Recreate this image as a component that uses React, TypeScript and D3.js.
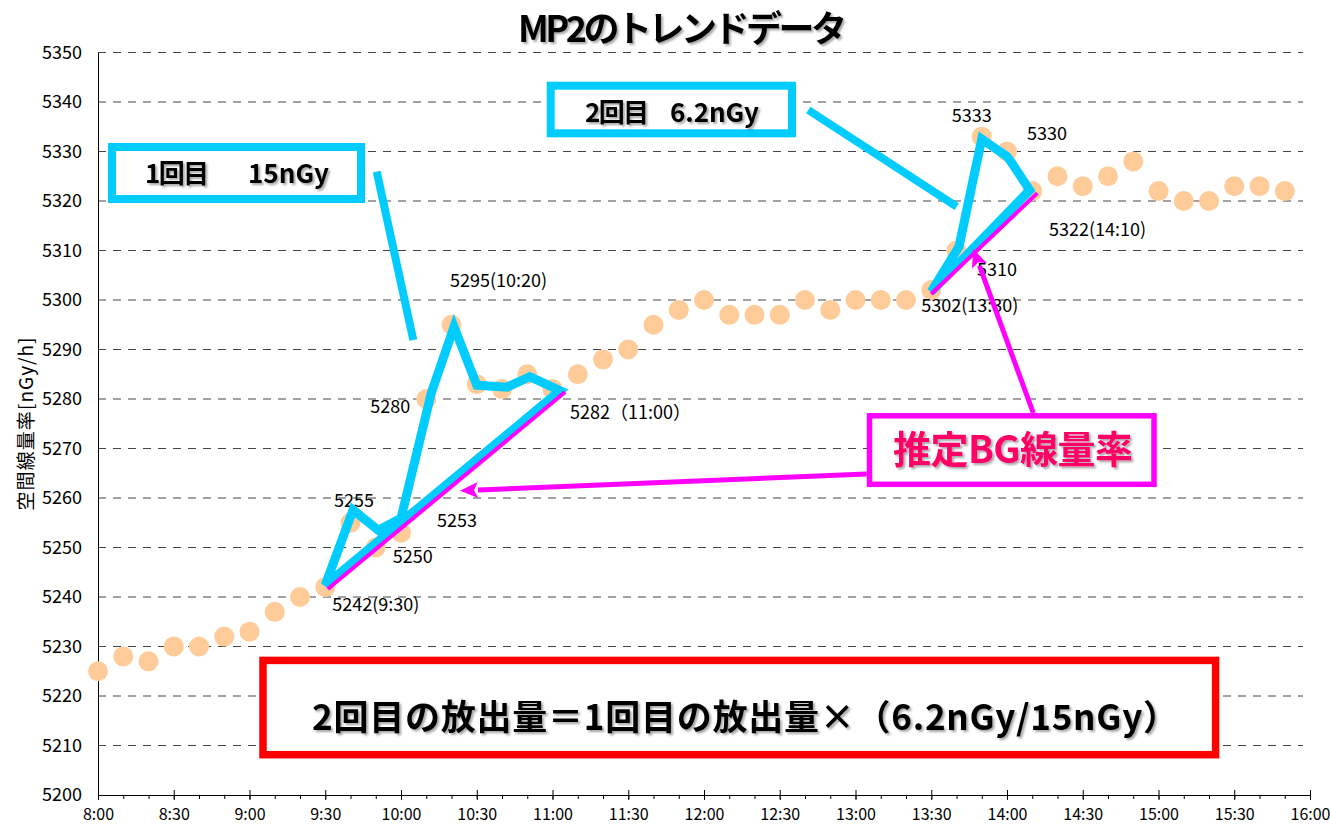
import React, { useEffect, useRef } from "react";
import * as d3 from "d3";

// measurement times (every 10 min) and readings [nGy/h]
const times = [
  "8:00", "8:10", "8:20", "8:30", "8:40", "8:50",
  "9:00", "9:10", "9:20", "9:30", "9:40", "9:50",
  "10:00", "10:10", "10:20", "10:30", "10:40", "10:50",
  "11:00", "11:10", "11:20", "11:30", "11:40", "11:50",
  "12:00", "12:10", "12:20", "12:30", "12:40", "12:50",
  "13:00", "13:10", "13:20", "13:30", "13:40", "13:50",
  "14:00", "14:10", "14:20", "14:30", "14:40", "14:50",
  "15:00", "15:10", "15:20", "15:30", "15:40", "15:50",
];
const values = [
  5225, 5228, 5227, 5230, 5230, 5232,
  5233, 5237, 5240, 5242, 5255, 5250,
  5253, 5280, 5295, 5283, 5282, 5285,
  5282, 5285, 5288, 5290, 5295, 5298,
  5300, 5297, 5297, 5297, 5300, 5298,
  5300, 5300, 5300, 5302, 5310, 5333,
  5330, 5322, 5325, 5323, 5325, 5328,
  5322, 5320, 5320, 5323, 5323, 5322,
];

const yTicks = [5200, 5210, 5220, 5230, 5240, 5250, 5260, 5270, 5280, 5290, 5300, 5310, 5320, 5330, 5340, 5350];
const xTickLabels = [
  "8:00", "8:30", "9:00", "9:30", "10:00", "10:30", "11:00", "11:30",
  "12:00", "12:30", "13:00", "13:30", "14:00", "14:30", "15:00", "15:30", "16:00",
];

// point labels
const labelTimes = ["9:30", "9:40", "9:50", "10:00", "10:10", "10:20", "11:00", "13:30", "13:40", "13:50", "14:00", "14:10"];
const labelTexts = [
  "5242(9:30)", "5255", "5250", "5253", "5280", "5295(10:20)",
  "5282（11:00）", "5302(13:30)", "5310", "5333", "5330", "5322(14:10)",
];
// pixel offsets from the dot (left edge, baseline)
const labelOffsets = [
  [7, 24], [-16.5, -16], [17, 15.5], [36, -6], [-56, 14], [-1.5, -37.5],
  [17.5, 30], [-10, 21.5], [20.5, 25.7], [-30, -15], [20, -11.5], [16.7, 45],
];

// hand-drawn cyan outlines of the two releases (time, value)
const firstRelease: [string, number][] = [
  ["9:30", 5242.4], ["9:41", 5257.6], ["9:51", 5253.5], ["10:00", 5255.9],
  ["10:12", 5281.2], ["10:21", 5294.6], ["10:30", 5282.8], ["10:42", 5282.4],
  ["10:51", 5284.5], ["11:03", 5281.7],
];
const secondRelease: [string, number][] = [
  ["13:30", 5301.7], ["13:41", 5310.8], ["13:50", 5332.5], ["14:00", 5329],
  ["14:02", 5327.6], ["14:09", 5322.2],
];
// estimated background lines
const firstBG: [string, number][] = [["9:31", 5241.6], ["11:05", 5281.4]];
const secondBG: [string, number][] = [["13:30", 5301.2], ["14:12", 5321.6]];

const toDate = (s: string) => {
  const [h, m] = s.split(":").map(Number);
  return new Date(2020, 0, 1, h, m);
};

const FONT = "'Noto Sans CJK JP', 'Liberation Sans', sans-serif";
const CYAN = "#00CCFF";
const MAGENTA = "#FF00FF";

const App = () => {
  const ref = useRef<SVGSVGElement | null>(null);

  useEffect(() => {
    if (!ref.current) return;
    const svg = d3.select(ref.current);
    svg.selectAll("*").remove();

    const left = 98, right = 1310, top = 52.5, bottom = 795;

    const defs = svg.append("defs");
    defs
      .append("filter")
      .attr("id", "shadow")
      .attr("x", "-10%").attr("y", "-30%").attr("width", "120%").attr("height", "160%")
      .append("feDropShadow")
      .attr("dx", 2).attr("dy", 2).attr("stdDeviation", 1)
      .attr("flood-color", "#000").attr("flood-opacity", 0.35);

    const x = d3.scaleTime().domain([toDate("8:00"), toDate("16:00")]).range([left, right]);
    const y = d3.scaleLinear().domain([5200, 5350]).range([bottom, top]);

    // grid
    svg
      .append("g")
      .selectAll("line")
      .data(yTicks.filter((v) => v > 5200))
      .join("line")
      .attr("x1", left)
      .attr("x2", 1303)
      .attr("y1", (d) => y(d))
      .attr("y2", (d) => y(d))
      .attr("stroke", "#444")
      .attr("stroke-width", 1)
      .attr("stroke-dasharray", "8 7");

    // y axis
    const yAxis = svg
      .append("g")
      .attr("transform", `translate(${left},0)`)
      .call(d3.axisLeft(y).tickValues(yTicks).tickSize(0).tickPadding(16).tickFormat((d) => String(d)));
    yAxis.select(".domain").attr("stroke", "#000");
    yAxis.selectAll("text").attr("font-size", 18).attr("font-family", FONT).attr("fill", "#000");

    // minor x ticks (10 min)
    const minor = svg
      .append("g")
      .attr("transform", `translate(0,${bottom})`)
      .call(d3.axisBottom(x).tickValues(times.map(toDate)).tickSize(4).tickFormat(() => ""));
    minor.select(".domain").remove();
    minor.selectAll("line").attr("stroke", "#000");

    // major x ticks (30 min)
    const xAxis = svg
      .append("g")
      .attr("transform", `translate(0,${bottom})`)
      .call(
        d3
          .axisBottom(x)
          .tickValues(xTickLabels.map(toDate))
          .tickSizeOuter(0)
          .tickFormat((d) => d3.timeFormat("%-H:%M")(d as Date))
      );
    xAxis.select(".domain").attr("stroke", "#000");
    xAxis.selectAll(".tick line").attr("y1", -5).attr("y2", 5).attr("stroke", "#000");
    xAxis
      .selectAll(".tick text")
      .attr("dy", null)
      .attr("y", 25)
      .attr("font-size", 16)
      .attr("font-family", FONT)
      .attr("fill", "#000");

    // y axis title
    svg
      .append("text")
      .attr("transform", "translate(24,424) rotate(-90)")
      .attr("text-anchor", "middle")
      .attr("dominant-baseline", "central")
      .attr("font-size", 19)
      .attr("font-family", FONT)
      .attr("textLength", 173)
      .text("空間線量率[nGy/h]");

    // dots
    svg
      .append("g")
      .selectAll("circle")
      .data(values)
      .join("circle")
      .attr("cx", (_, i) => x(toDate(times[i])))
      .attr("cy", (d) => y(d))
      .attr("r", 10)
      .attr("fill", "#FFCC99");

    // point labels
    svg
      .append("g")
      .selectAll("text")
      .data(labelTexts)
      .join("text")
      .attr("x", (_, i) => x(toDate(labelTimes[i])) + labelOffsets[i][0])
      .attr("y", (_, i) => y(values[times.indexOf(labelTimes[i])]) + labelOffsets[i][1])
      .attr("font-size", 18)
      .attr("font-family", FONT)
      .attr("fill", "#000")
      .text((d) => d);

    const line = d3
      .line<[string, number]>()
      .x((d) => x(toDate(d[0])))
      .y((d) => y(d[1]));

    [firstRelease, secondRelease].forEach((trace) => {
      svg
        .append("path")
        .attr("d", line.curve(d3.curveLinearClosed)(trace))
        .attr("fill", "none")
        .attr("stroke", CYAN)
        .attr("stroke-width", 9)
        .attr("stroke-linejoin", "miter")
        .attr("stroke-miterlimit", 3);
    });
    line.curve(d3.curveLinear);
    [firstBG, secondBG].forEach((bg) => {
      svg
        .append("path")
        .attr("d", line(bg))
        .attr("fill", "none")
        .attr("stroke", MAGENTA)
        .attr("stroke-width", 4);
    });

    // callout pointers
    const pointers = [
      [376.7, 171.7, 413.3, 340],
      [808.3, 110, 956.7, 206.7],
    ];
    svg
      .append("g")
      .selectAll("line")
      .data(pointers)
      .join("line")
      .attr("x1", (d) => d[0])
      .attr("y1", (d) => d[1])
      .attr("x2", (d) => d[2])
      .attr("y2", (d) => d[3])
      .attr("stroke", CYAN)
      .attr("stroke-width", 8);

    // boxes
    const boxes = [
      { x: 112, y: 147, w: 249, h: 52, c: CYAN, sw: 8 },
      { x: 550.7, y: 85.7, w: 241.3, h: 47.6, c: CYAN, sw: 8 },
      { x: 869.5, y: 415.8, w: 284.5, h: 68.5, c: MAGENTA, sw: 5.5 },
      { x: 263, y: 660.4, w: 952.6, h: 94.3, c: "#FF0000", sw: 7.5 },
    ];
    svg
      .append("g")
      .selectAll("rect")
      .data(boxes)
      .join("rect")
      .attr("x", (d) => d.x)
      .attr("y", (d) => d.y)
      .attr("width", (d) => d.w)
      .attr("height", (d) => d.h)
      .attr("fill", "#fff")
      .attr("stroke", (d) => d.c)
      .attr("stroke-width", (d) => d.sw);

    // arrows to the background lines
    const arrows = [
      [866.7, 474, 460, 490.7],
      [1033.3, 413, 973.3, 249],
    ];
    arrows.forEach(([x1, y1, x2, y2]) => {
      const a = Math.atan2(y2 - y1, x2 - x1);
      const len = 18, hw = 8;
      const bx = x2 - len * Math.cos(a), by = y2 - len * Math.sin(a);
      svg
        .append("line")
        .attr("x1", x1).attr("y1", y1).attr("x2", bx).attr("y2", by)
        .attr("stroke", MAGENTA).attr("stroke-width", 5);
      const px = -Math.sin(a) * hw, py = Math.cos(a) * hw;
      svg
        .append("path")
        .attr("d", `M${x2},${y2}L${bx + px},${by + py}L${bx + 4 * Math.cos(a)},${by + 4 * Math.sin(a)}L${bx - px},${by - py}Z`)
        .attr("fill", MAGENTA);
    });

    // texts
    const texts = [
      { t: "MP2のトレンドデータ", x: 518, y: 42, s: 36, c: "#000", len: 329 },
      { t: "1回目", x: 145, y: 183, s: 26, c: "#000", len: 64 },
      { t: "15nGy", x: 248, y: 183, s: 26, c: "#000", len: 81 },
      { t: "2回目", x: 585, y: 121.5, s: 26, c: "#000", len: 64 },
      { t: "6.2nGy", x: 670, y: 121.5, s: 26, c: "#000", len: 89 },
      { t: "推定BG線量率", x: 893, y: 463, s: 38, c: "#FF0066", len: 240 },
      { t: "2回目の放出量＝1回目の放出量×（6.2nGy/15nGy）", x: 312, y: 730, s: 35, c: "#000", len: 866 },
    ];
    svg
      .append("g")
      .selectAll("text")
      .data(texts)
      .join("text")
      .attr("x", (d) => d.x)
      .attr("y", (d) => d.y)
      .attr("font-size", (d) => d.s)
      .attr("font-weight", "bold")
      .attr("font-family", FONT)
      .attr("fill", (d) => d.c)
      .attr("textLength", (d) => d.len)
      .attr("filter", "url(#shadow)")
      .text((d) => d.t);
  }, []);

  return (
    <svg
      ref={ref}
      width={1330}
      height={824}
      style={{ position: "absolute", left: 0, top: 0, background: "#fff" }}
    ></svg>
  );
};

export default App;
